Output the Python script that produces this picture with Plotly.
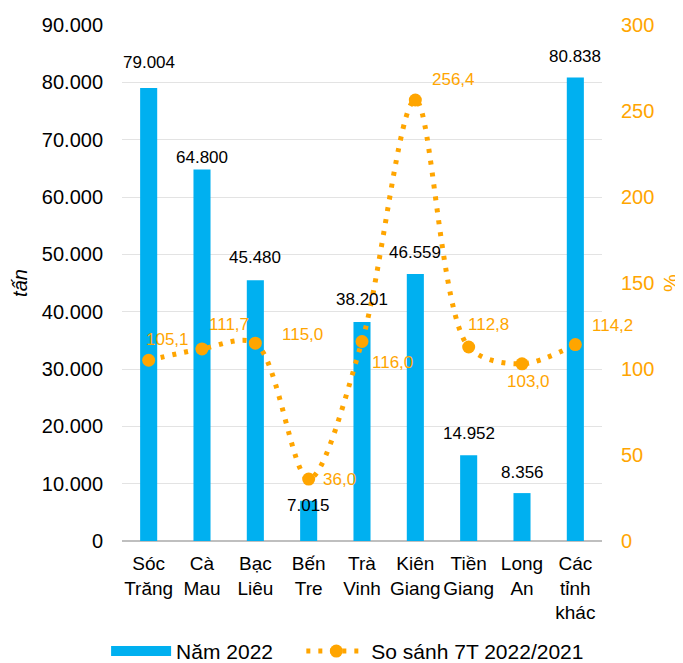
import plotly.graph_objects as go

categories = ["Sóc<br>Trăng", "Cà<br>Mau", "Bạc<br>Liêu", "Bến<br>Tre", "Trà<br>Vinh",
              "Kiên<br>Giang", "Tiền<br>Giang", "Long<br>An", "Các<br>tỉnh<br>khác"]
tons_2022 = [79004, 64800, 45480, 7015, 38201, 46559, 14952, 8356, 80838]
ratio_pct = [105.1, 111.7, 115.0, 36.0, 116.0, 256.4, 112.8, 103.0, 114.2]

left_ticks = [0, 10000, 20000, 30000, 40000, 50000, 60000, 70000, 80000, 90000]
left_labels = ["0", "10.000", "20.000", "30.000", "40.000", "50.000", "60.000", "70.000", "80.000", "90.000"]
right_ticks = [0, 50, 100, 150, 200, 250, 300]

# label placement offsets (pixels) – styling only
bar_label_dy = [-26, -12, -23, 5, -22, -22, -22, -21, -21]
line_label_dx = [19, 27, 47, 31, 30, 38, 20, 6, 37]
line_label_dy = [-21, -24, -9, 0, 21, -20, -22, 18, -19]

BLUE = "#00B0F0"
ORANGE = "#FFA500"
FONT = "Liberation Sans, Arial, sans-serif"

def vn_int(v):
    return f"{v:,}".replace(",", ".")

def vn_dec(v):
    return f"{v:.1f}".replace(".", ",")

fig = go.Figure()
fig.add_trace(go.Bar(
    x=categories, y=tons_2022, name="Năm 2022",
    marker=dict(color=BLUE, line=dict(width=0)),
    width=0.32, showlegend=False,
))
# legend entry for the bars (wide blue bar like the original)
fig.add_trace(go.Scatter(
    x=[categories[0]], y=[None], name="Năm 2022    ", mode="lines",
    line=dict(color=BLUE, width=11),
))
fig.add_trace(go.Scatter(
    x=categories, y=ratio_pct, name="So sánh 7T 2022/2021",
    yaxis="y2", mode="lines+markers",
    line=dict(color=ORANGE, width=5, dash="4px,8px", shape="spline", smoothing=0.9),
    marker=dict(color=ORANGE, size=13),
    cliponaxis=False,
))

annotations = []
for c, v, dy in zip(categories, tons_2022, bar_label_dy):
    annotations.append(dict(
        x=c, y=v, xref="x", yref="y", text=vn_int(v), showarrow=False,
        xanchor="center", yanchor="middle", yshift=-dy,
        font=dict(size=17, color="black", family=FONT),
    ))
for c, v, dx, dy in zip(categories, ratio_pct, line_label_dx, line_label_dy):
    annotations.append(dict(
        x=c, y=v, xref="x", yref="y2", text=vn_dec(v), showarrow=False,
        xanchor="center", yanchor="middle", xshift=dx, yshift=-dy,
        font=dict(size=17, color=ORANGE, family=FONT),
    ))

fig.update_layout(
    width=683, height=663,
    margin=dict(l=114, r=89, t=17, b=130, autoexpand=False),
    paper_bgcolor="white", plot_bgcolor="white",
    font=dict(family=FONT, size=20, color="black"),
    showlegend=True,
    legend=dict(orientation="h", x=0.47, xanchor="center", y=-0.214, yanchor="middle",
                font=dict(size=21, family=FONT), itemwidth=60, traceorder="normal"),
    annotations=annotations,
    xaxis=dict(showgrid=False, showline=False, ticks="", tickangle=0,
               range=[-0.5, len(categories) - 0.5], ticklabelstandoff=9,
               tickfont=dict(size=19), automargin=False),
    yaxis=dict(range=[0, 90000], tickvals=left_ticks, ticktext=left_labels,
               showgrid=True, gridcolor="#E3E3E3", gridwidth=1,
               zeroline=True, zerolinecolor="#BFBFBF", zerolinewidth=2,
               showline=False, ticks="", tickfont=dict(size=20),
               ticklabelstandoff=18, automargin=False,
               title=dict(text="<i>tấn</i>", font=dict(size=20), standoff=8)),
    yaxis2=dict(range=[0, 300], tickvals=right_ticks,
                overlaying="y", side="right", showgrid=False, zeroline=False,
                showline=False, ticks="", automargin=False,
                tickfont=dict(size=20, color=ORANGE), ticklabelstandoff=18,
                title=dict(text="%", font=dict(size=20, color=ORANGE), standoff=10)),
)

fig.write_html("out.html")
